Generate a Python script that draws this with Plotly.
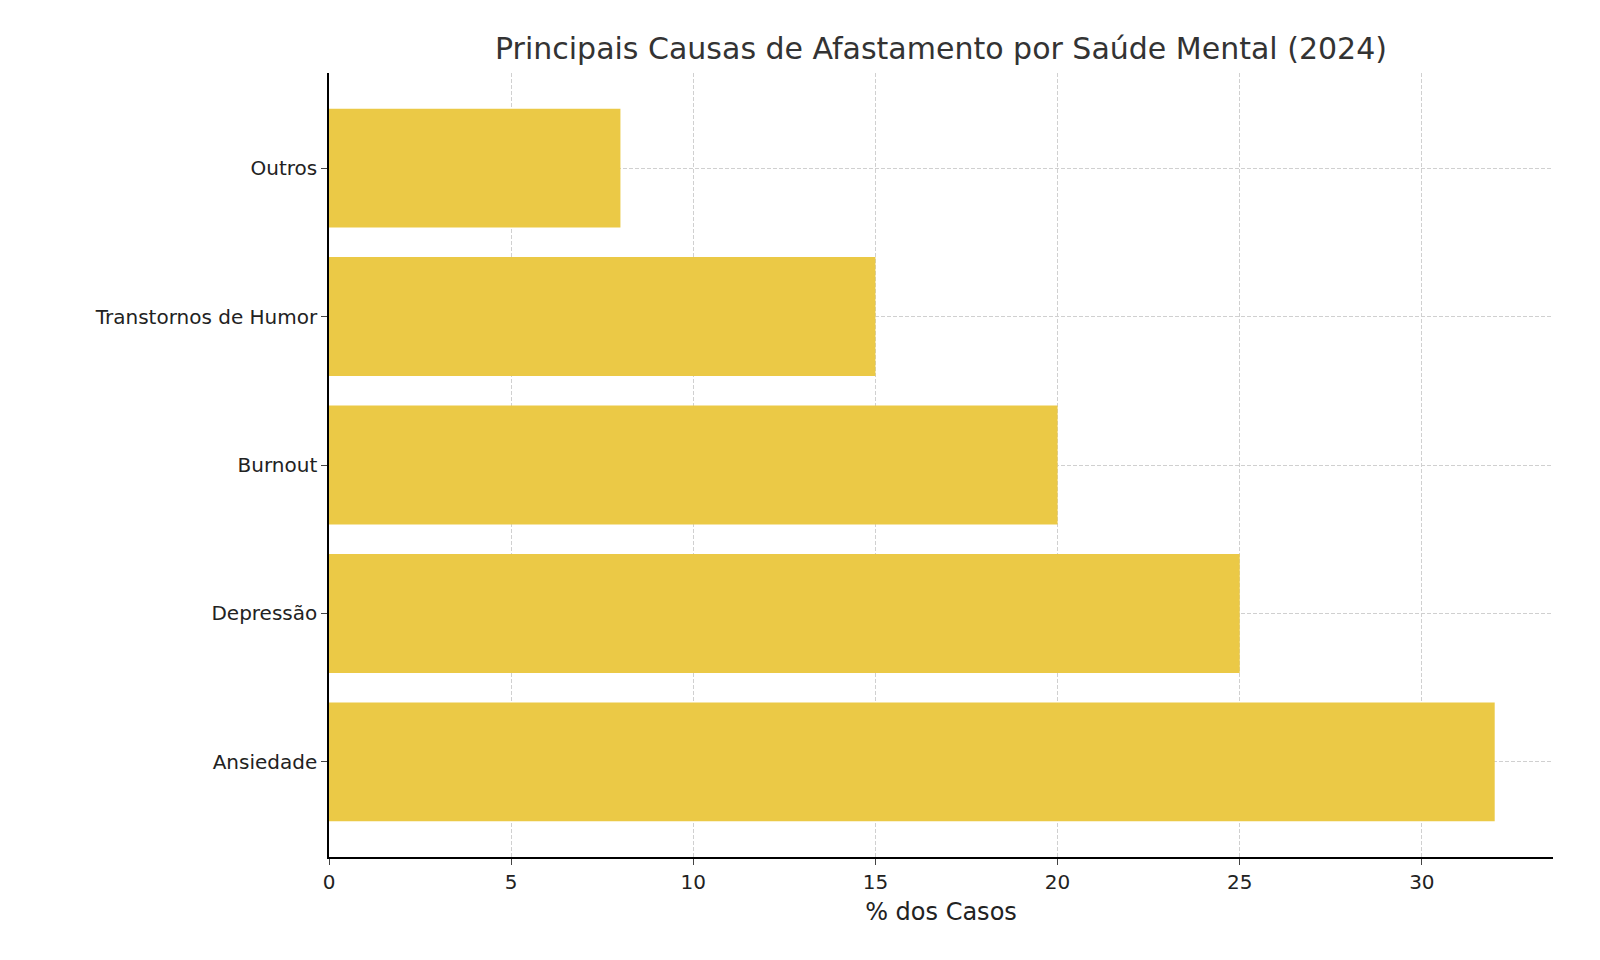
import plotly.graph_objects as go

categories = ["Ansiedade", "Depressão", "Burnout", "Transtornos de Humor", "Outros"]
values = [32, 25, 20, 15, 8]
x_ticks = [0, 5, 10, 15, 20, 25, 30]

fig = go.Figure(go.Bar(
    x=values, y=categories, orientation="h",
    marker=dict(color="#EBC946", line=dict(width=0)), width=0.8,
))
fig.update_layout(
    width=1600, height=960,
    margin=dict(l=321, r=55, t=65, b=111),
    paper_bgcolor="white", plot_bgcolor="white",
    font=dict(family="DejaVu Sans", size=20, color="#222"),
    title=dict(text="Principais Causas de Afastamento por Saúde Mental (2024)",
               x=(321 + 1545) / 2 / 1600, xanchor="center", y=0.958, yanchor="middle",
               font=dict(size=30, color="#333")),
    showlegend=False, bargap=0.2,
)
fig.update_xaxes(
    range=[0, 33.6], tickvals=x_ticks, title=dict(text="% dos Casos", standoff=10),
    showgrid=True, gridcolor="#d0d0d0", griddash="4px,2px", gridwidth=1,
    showline=True, linecolor="black", linewidth=1.5, ticks="outside", ticklen=6,
    zeroline=False, layer="below traces",
)
fig.update_yaxes(
    range=[-0.64, 4.64], categoryorder="array", categoryarray=categories,
    showgrid=True, gridcolor="#d0d0d0", griddash="4px,2px", gridwidth=1,
    showline=True, linecolor="black", linewidth=1.5, ticks="outside", ticklen=6,
    zeroline=False,
)
fig.write_html("out.html")
